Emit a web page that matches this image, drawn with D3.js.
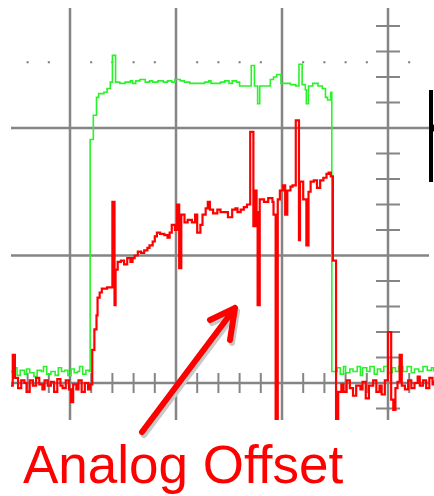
<!DOCTYPE html>
<html>
<head>
<meta charset="utf-8">
<script src="https://cdn.jsdelivr.net/npm/d3@7"></script>
<style>
  body { margin: 0; background: #fff; }
  svg { display: block; }
</style>
</head>
<body>
<svg width="434" height="496"></svg>
<script>
// time in tenths of a division, level in tenths of a division
const greenT = [-5.6,-5.3,-5.0,-4.7,-4.3,-4.1,-3.8,-3.4,-3.1,-2.7,-2.5,-2.2,-1.8,-1.4,-1.1,-0.8,-0.5,-0.2,0.1,0.4,0.7,0.9,1.2,1.5,1.8,
  1.9,2.2,2.5,2.7,3.2,3.5,3.8,4.0,4.3,4.7,5.2,5.7,5.9,6.2,6.6,7.1,7.5,7.8,8.3,8.8,9.2,9.6,9.9,10.4,10.8,11.3,11.8,12.3,12.7,13.1,13.3,13.7,
  14.2,14.6,15.0,15.3,15.7,16.0,17.1,17.4,17.7,17.9,18.9,19.2,19.5,19.9,20.8,21.3,21.6,21.9,22.2,22.3,22.5,22.9,23.4,23.8,24.1,24.3,24.6,
  24.7,24.9,25.2,25.5,25.8,26.0,26.4,26.7,27.1,27.4,27.6,28.0,28.3,28.7,29.0,29.3,29.6,30.0,30.4,30.7,31.0,31.4,31.8,32.2,32.5,32.9,33.3,33.7,34.1,34.3];
const greenV = [0.9,1.2,0.6,1.0,0.7,1.1,0.8,0.5,1.0,0.9,1.3,0.7,0.9,0.6,1.2,0.9,1.0,0.6,1.1,0.8,0.9,1.3,0.7,1.0,0.9,
  19.1,21.0,22.4,22.7,22.8,23.1,23.6,25.7,23.6,23.5,23.6,23.7,23.5,23.7,23.8,23.6,23.7,23.6,23.7,23.6,23.7,23.6,23.8,23.7,23.6,23.5,23.5,23.5,23.6,23.7,23.5,23.5,
  23.6,23.7,23.5,23.7,23.6,23.3,24.9,23.3,21.9,23.3,23.8,24.0,24.2,23.5,23.4,23.3,25.0,23.4,23.0,21.9,23.3,23.5,23.3,23.1,22.4,22.2,22.8,
  0.9,0.9,1.2,0.7,1.3,0.8,1.1,0.9,1.3,0.6,1.2,0.9,1.3,0.7,1.1,0.9,1.3,0.8,1.2,0.9,1.3,0.9,1.3,0.8,1.1,0.9,1.3,1.0,1.2,0.9];

const redT = [-5.6,-5.4,-5.2,-4.9,-4.6,-4.3,-4.1,-3.8,-3.5,-3.2,-2.9,-2.6,-2.4,-2.1,-1.8,-1.5,-1.2,-0.9,-0.7,-0.4,-0.1,0.1,0.3,0.6,0.8,1.1,1.4,1.7,1.9,
  2.1,2.3,2.5,2.6,2.8,3.0,3.5,3.8,4.0,4.2,4.3,4.5,4.8,5.1,5.4,5.7,5.9,6.1,6.4,6.7,7.0,7.3,7.5,7.8,8.0,8.2,8.5,8.9,9.2,9.4,9.6,9.9,
  10.1,10.3,10.5,10.8,11.1,11.5,11.8,12.0,12.3,12.5,12.8,13.0,13.2,13.5,13.9,14.2,14.6,14.9,15.3,15.6,15.8,16.1,16.4,16.7,
  17.0,17.3,17.5,17.6,17.7,17.9,18.3,18.7,19.1,19.2,19.4,19.6,19.8,20.1,20.3,20.5,20.8,21.0,21.3,21.6,21.7,22.0,22.3,22.5,22.7,23.0,23.3,23.6,23.9,24.2,24.4,24.6,
  24.8,25.1,25.3,25.6,25.8,26.1,26.4,26.7,27.0,27.4,27.6,27.9,28.2,28.6,28.9,29.2,29.4,29.7,30.0,30.3,30.5,30.7,30.9,31.1,31.3,31.6,31.9,32.2,32.5,32.8,33.0,33.3,33.6,33.9,34.2,34.3];
const redV = [-0.2,2.2,0.4,-0.4,0.2,0.0,-0.7,0.2,-0.2,0.4,-0.1,-0.5,0.2,-0.2,0.1,-0.7,0.3,-0.2,-0.4,0.2,-0.5,-1.5,-0.1,-0.5,0.2,-0.7,0.0,-0.5,-0.1,
  2.6,4.2,5.3,6.7,7.1,7.4,7.5,7.5,14.2,6.1,8.9,9.5,9.6,9.3,9.8,9.5,9.8,10.0,10.3,10.2,10.4,10.6,10.8,11.1,11.5,11.8,11.7,11.6,11.4,11.8,12.4,12.0,
  14.0,9.0,13.2,12.6,12.8,12.6,13.2,11.8,12.4,13.2,13.7,14.2,13.6,13.3,13.6,13.4,13.4,13.0,13.6,13.7,13.4,13.6,13.8,14.0,
  19.7,12.3,15.1,13.4,6.1,14.4,14.2,14.5,14.2,13.2,-3.3,14.4,15.1,15.5,13.2,15.1,15.4,15.5,20.6,11.2,15.8,14.4,10.8,15.0,15.8,15.9,15.3,15.9,16.1,16.4,16.5,16.2,
  9.6,-3.3,-0.7,-0.1,-0.7,0.2,-0.4,-1.0,-0.2,-0.5,0.1,-1.2,-0.2,0.2,-0.7,-0.2,-0.9,0.2,4.0,-1.3,-2.1,-0.4,0.1,2.2,-0.2,-0.5,0.2,-0.4,0.0,0.5,-0.2,0.2,-0.4,0.4,-0.1,0.2];

const majorT = [0, 10, 20, 30];
const majorV = [0, 10, 20];
const label = 'Analog Offset';

const svg = d3.select('svg');
const box = {left: 11, right: 429, top: 8, bottom: 420};

const xScale = d3.scaleLinear().domain([0, 10]).range([70, 176]);
const yScale = d3.scaleLinear().domain([0, 10]).range([383, 255.5]);

const tMin = xScale.invert(box.left), tMax = xScale.invert(box.right);
const vMin = yScale.invert(box.bottom), vMax = yScale.invert(box.top);

const gridColor = '#858585';
const gridG = svg.append('g');

// major graticule
gridG.selectAll('.vline').data(majorT).enter().append('line')
  .attr('x1', d => xScale(d)).attr('x2', d => xScale(d))
  .attr('y1', box.top).attr('y2', box.bottom)
  .attr('stroke', gridColor).attr('stroke-width', 2.5);

gridG.selectAll('.hline').data(majorV).enter().append('line')
  .attr('x1', box.left).attr('x2', box.right)
  .attr('y1', d => yScale(d)).attr('y2', d => yScale(d))
  .attr('stroke', gridColor).attr('stroke-width', 2.5);

// minor ticks along the centre axes
const xTicks = d3.range(-6, 36, 2).filter(t => t % 10 !== 0 && t > tMin && t < tMax);
gridG.selectAll('.xtick').data(xTicks).enter().append('line')
  .attr('x1', d => xScale(d)).attr('x2', d => xScale(d))
  .attr('y1', yScale(0) - 10).attr('y2', yScale(0) + 10)
  .attr('stroke', gridColor).attr('stroke-width', 2);

const yTicks = d3.range(-4, 32, 2).filter(v => v % 10 !== 0 && v > vMin && v < vMax);
gridG.selectAll('.ytick').data(yTicks).enter().append('line')
  .attr('x1', xScale(30) - 12).attr('x2', xScale(30) + 12)
  .attr('y1', d => yScale(d)).attr('y2', d => yScale(d))
  .attr('stroke', gridColor).attr('stroke-width', 2);

// dotted row
const dots = d3.range(-6, 36, 2).filter(t => t % 10 !== 0 && t > tMin && t < tMax);
gridG.selectAll('.dot').data(dots).enter().append('rect')
  .attr('x', d => xScale(d) - 1).attr('y', yScale(25) - 3)
  .attr('width', 2).attr('height', 2)
  .attr('fill', '#777');

// traces
svg.append('clipPath').attr('id', 'clip').append('rect')
  .attr('x', box.left).attr('y', box.top)
  .attr('width', 434 - box.left).attr('height', box.bottom - box.top);

const line = d3.line()
  .x(d => xScale(d[0]))
  .y(d => yScale(d[1]))
  .curve(d3.curveStepAfter);

const traceG = svg.append('g').attr('clip-path', 'url(#clip)');
traceG.append('path')
  .attr('d', line(d3.zip(greenT, greenV)))
  .attr('fill', 'none').attr('stroke', '#2af22a').attr('stroke-width', 1.6);
traceG.append('path')
  .attr('d', line(d3.zip(redT, redV)))
  .attr('fill', 'none').attr('stroke', '#ff0000').attr('stroke-width', 2.2);

// channel marker on the right edge
svg.append('rect').attr('x', 429).attr('y', 90).attr('width', 4).attr('height', 92).attr('fill', '#000');
svg.append('path').attr('d', `M433,${yScale(20) - 4}L436,${yScale(20)}L433,${yScale(20) + 4}Z`).attr('fill', '#000');

// annotation arrow with shadow
const arrow = 'M142,432L235,308M210,320L235,308L230,340';
svg.append('path').attr('d', arrow).attr('transform', 'translate(2,3)')
  .attr('fill', 'none').attr('stroke', '#c8c8c8').attr('stroke-width', 6)
  .attr('stroke-linecap', 'round').attr('stroke-linejoin', 'round');
svg.append('path').attr('d', arrow)
  .attr('fill', 'none').attr('stroke', '#ff0000').attr('stroke-width', 6)
  .attr('stroke-linecap', 'round').attr('stroke-linejoin', 'round');

svg.append('text')
  .attr('x', 23).attr('y', 483)
  .attr('font-family', 'Liberation Sans, Arial, sans-serif')
  .attr('font-size', 53)
  .attr('fill', '#ff0000')
  .text(label);
</script>
</body>
</html>
